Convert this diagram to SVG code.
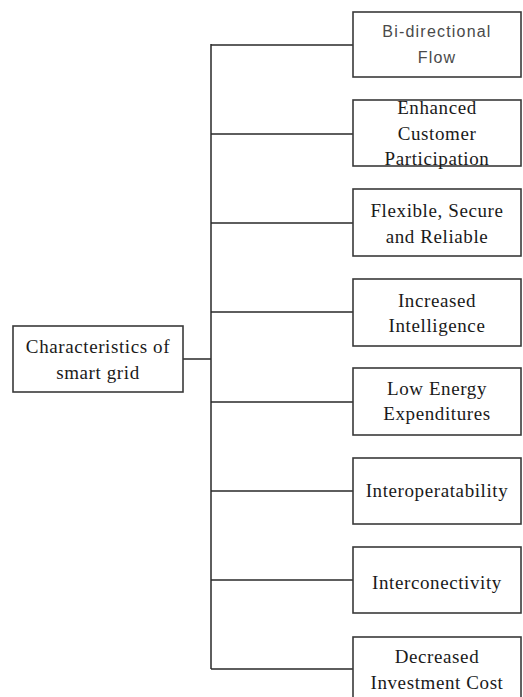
<svg xmlns="http://www.w3.org/2000/svg" width="523" height="697" viewBox="0 0 523 697">
<style>
.box{fill:#fff;stroke:#3a3a3a;stroke-width:1.6}
.t{font-family:"Liberation Serif","Times New Roman",serif;font-size:19px;fill:#1a1a1a;text-anchor:middle;letter-spacing:0.6px}
.s{font-family:"Liberation Sans",Arial,sans-serif;font-size:16px;fill:#4a4a4a;text-anchor:middle;letter-spacing:1.2px}
.c{fill:none;stroke:#2a2a2a;stroke-width:1.5}
</style>
<rect width="523" height="697" fill="#fff"/>
<g id="connectors">
<path class="c" d="M183 359H211M211 44V669M211 45H353M211 134H353M211 223H353M211 312H353M211 402H353M211 491H353M211 580H353M211 669H353"/>
</g>
<g id="root"><rect class="box" x="13" y="326" width="170" height="66"/><text class="t" x="98" y="353">Characteristics of</text><text class="t" x="98" y="379">smart grid</text></g>
<g id="n1"><rect class="box" x="353" y="12" width="168" height="65"/><text class="s" x="437" y="37">Bi-directional</text><text class="s" x="437" y="63">Flow</text></g>
<g id="n2"><rect class="box" x="353" y="100" width="168" height="66"/><text class="t" x="437" y="114">Enhanced</text><text class="t" x="437" y="140">Customer</text><text class="t" x="437" y="165">Participation</text></g>
<g id="n3"><rect class="box" x="353" y="189" width="168" height="67"/><text class="t" x="437" y="217">Flexible, Secure</text><text class="t" x="437" y="243">and Reliable</text></g>
<g id="n4"><rect class="box" x="353" y="279" width="168" height="67"/><text class="t" x="437" y="307">Increased</text><text class="t" x="437" y="332">Intelligence</text></g>
<g id="n5"><rect class="box" x="353" y="368" width="168" height="67"/><text class="t" x="437" y="395">Low Energy</text><text class="t" x="437" y="420">Expenditures</text></g>
<g id="n6"><rect class="box" x="353" y="458" width="168" height="66"/><text class="t" x="437" y="497">Interoperatability</text></g>
<g id="n7"><rect class="box" x="353" y="547" width="168" height="66"/><text class="t" x="437" y="589">Interconectivity</text></g>
<g id="n8"><rect class="box" x="353" y="637" width="168" height="66"/><text class="t" x="437" y="663">Decreased</text><text class="t" x="437" y="689">Investment Cost</text></g>
</svg>
